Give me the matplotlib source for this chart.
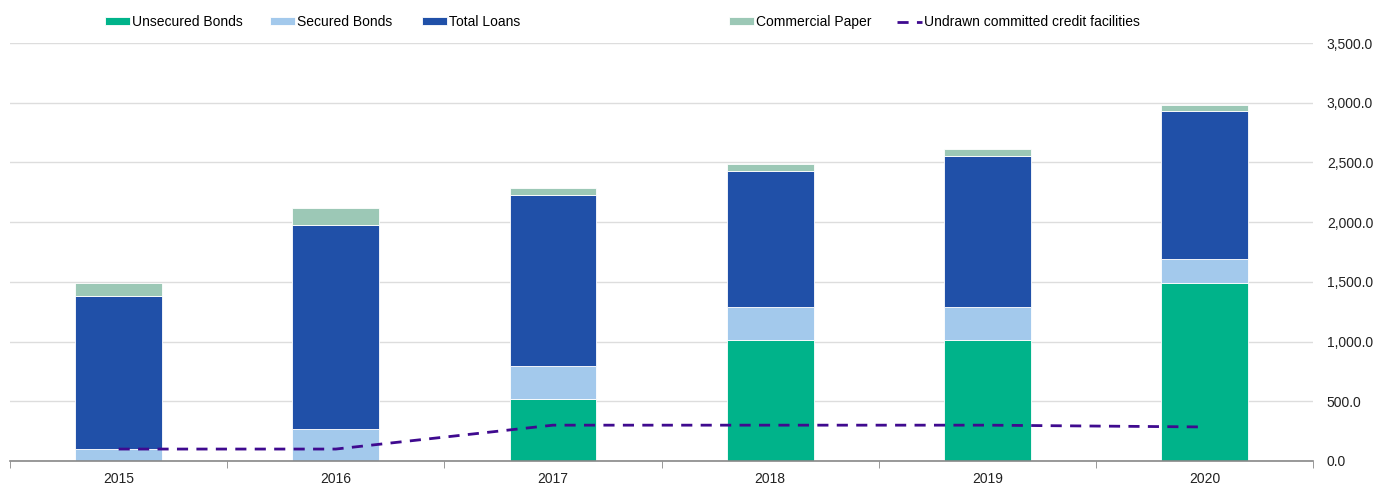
import numpy as np
import matplotlib.pyplot as plt
from matplotlib.ticker import FuncFormatter, FixedLocator

plt.rcParams['font.family'] = ['Liberation Sans', 'DejaVu Sans']

years = ['2015', '2016', '2017', '2018', '2019', '2020']
unsecured = [0, 0, 520, 1015, 1015, 1490]
secured = [100, 270, 275, 275, 275, 200]
loans = [1280, 1706, 1432, 1139, 1265, 1240]
cp = [110, 142, 59, 59, 58, 50]
undrawn = [100, 100, 300, 300, 300, 285]

c_uns = '#00B38A'
c_sec = '#A3C9EC'
c_loan = '#2050A8'
c_cp = '#9CC8B6'
c_line = '#3F0A8F'

fig = plt.figure(figsize=(13.77, 4.87), dpi=100)
ax = fig.add_axes([0.0073, 0.0534, 0.9462, 0.8583])

x = np.arange(len(years))
w = 0.4
b1 = np.array(unsecured, dtype=float)
b2 = b1 + np.array(secured)
b3 = b2 + np.array(loans)

h1 = ax.bar(x, unsecured, w, color=c_uns, edgecolor='white', linewidth=0.6, label='Unsecured Bonds', zorder=2)
h2 = ax.bar(x, secured, w, bottom=b1, color=c_sec, edgecolor='white', linewidth=0.6, label='Secured Bonds', zorder=2)
h3 = ax.bar(x, loans, w, bottom=b2, color=c_loan, edgecolor='white', linewidth=0.6, label='Total Loans', zorder=2)
h4 = ax.bar(x, cp, w, bottom=b3, color=c_cp, edgecolor='white', linewidth=0.6, label='Commercial Paper', zorder=2)
h5, = ax.plot(x, undrawn, color=c_line, linestyle=(0, (4, 3)), linewidth=2,
              label='Undrawn committed credit facilities', zorder=3)

ax.set_xlim(-0.5, len(years) - 0.5)
ax.set_ylim(0, 3500)
ax.set_xticks(x)
ax.set_xticklabels(years, fontsize=10, color='#222222')
ax.xaxis.set_minor_locator(FixedLocator(np.arange(-0.5, len(years), 1.0)))
ax.tick_params(axis='x', which='major', length=0, pad=8)
ax.tick_params(axis='x', which='minor', length=5, color='#888888')

ax.yaxis.tick_right()
ax.set_yticks(np.arange(0, 3501, 500))
ax.yaxis.set_major_formatter(FuncFormatter(lambda v, p: f'{v:,.1f}'))
ax.tick_params(axis='y', length=0, pad=10, labelsize=10, labelcolor='#222222')
ax.grid(axis='y', color='#dddddd', linewidth=1, zorder=0)
ax.set_axisbelow(True)

for s in ['top', 'left', 'right']:
    ax.spines[s].set_visible(False)
ax.spines['bottom'].set_color('#888888')
ax.spines['bottom'].set_linewidth(1.2)

# legend entries sit at fixed spots along the top, like the original
leg_x = [105, 270, 422, 729, 897]
for h, lx in zip([h1, h2, h3, h4, h5], leg_x):
    fig.legend(handles=[h], loc='center left', bbox_to_anchor=(lx / 1377, 1 - 22 / 487),
               frameon=False, fontsize=10, handlelength=1.8, handleheight=0.5,
               handletextpad=0.15, borderpad=0, borderaxespad=0)

fig.savefig('out.png', dpi=100)
